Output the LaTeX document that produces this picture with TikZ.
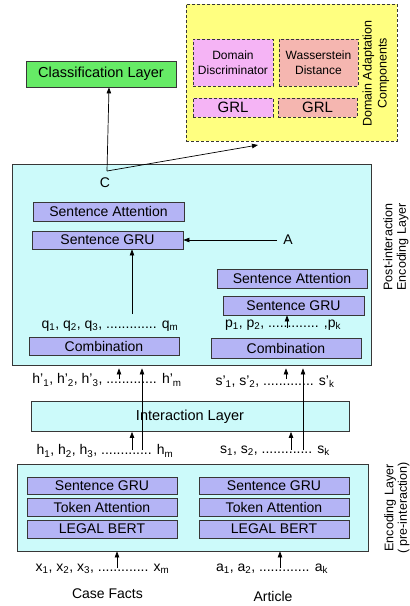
\documentclass[tikz,border=0pt]{standalone}
\usepackage{fontspec}
\setmainfont{Liberation Sans}
\usetikzlibrary{arrows.meta,calc}
\definecolor{yel}{RGB}{255,255,128}
\definecolor{pnk}{RGB}{245,180,245}
\definecolor{sal}{RGB}{245,182,176}
\definecolor{grn}{RGB}{102,235,102}
\definecolor{cyn}{RGB}{204,250,250}
\definecolor{lav}{RGB}{180,180,245}
\definecolor{edge}{RGB}{55,55,55}
\newcommand{\mydots}{.............}
\begin{document}
\begin{tikzpicture}[x=1pt,y=-1pt,
  box/.style={draw=edge,line width=0.8pt,inner sep=0pt,anchor=center,align=center},
  lay/.style={box,fill=lav,font=\fontsize{14}{16}\selectfont},
  dbox/.style={box,dash pattern=on 3pt off 2pt,line width=0.9pt},
  lbl/.style={inner sep=0pt,font=\fontsize{14}{16}\selectfont},
  arr/.style={-{Triangle[length=6pt,width=4.5pt]},line width=0.7pt,draw=black},
  rot/.style={rotate=90,align=center,inner sep=0pt,font=\fontsize{12.5}{13.5}\selectfont}]
\useasboundingbox (0,0) rectangle (410,606);
\fill[white] (0,0) rectangle (410,606);
% domain adaptation
\node[dbox,fill=yel,minimum width=211pt,minimum height=137pt] (yb) at (291.5,72.5) {};
\node[dbox,fill=pnk,minimum width=80pt,minimum height=47pt,font=\fontsize{12}{15}\selectfont] (dd) at (233,62.5) {Domain\\Discriminator};
\node[dbox,fill=sal,minimum width=79pt,minimum height=47pt,font=\fontsize{12}{15}\selectfont] (wd) at (318.5,62.5) {Wasserstein\\Distance};
\node[dbox,fill=pnk,minimum width=80pt,minimum height=19pt,font=\fontsize{15}{17}\selectfont] (g1) at (233,107.5) {GRL};
\node[dbox,fill=sal,minimum width=79pt,minimum height=19pt,font=\fontsize{15}{17}\selectfont] (g2) at (317.5,107.5) {GRL};
\node[rot,font=\fontsize{12.5}{15}\selectfont] (dac) at (376,73.5) {Domain Adaptation\\Components};
% classification
\node[box,fill=grn,minimum width=150pt,minimum height=26pt,font=\fontsize{14.5}{16}\selectfont] (cls) at (101,74) {Classification Layer};
% post-interaction
\node[box,fill=cyn,minimum width=359pt,minimum height=201pt] (post) at (191.5,264.5) {};
\node[rot] (postl) at (396,247) {Post-interaction\\Encoding Layer};
\node[lay,minimum width=151pt,minimum height=19pt] (sa1) at (108.5,211.5) {Sentence Attention};
\node[lay,minimum width=151pt,minimum height=18pt] (sg1) at (107.5,240) {Sentence GRU};
\node[lay,minimum width=150pt,minimum height=19pt] (sa2) at (292,278.5) {Sentence Attention};
\node[lay,minimum width=141pt,minimum height=19pt] (sg2) at (293.5,305.5) {Sentence GRU};
\node[lay,minimum width=150pt,minimum height=18pt] (cb1) at (104,346) {Combination};
\node[lay,minimum width=150pt,minimum height=20pt] (cb2) at (286,348) {Combination};
\node[lbl] (q) at (110,326) {q\textsubscript{1}, q\textsubscript{2}, q\textsubscript{3}, \mydots{} q\textsubscript{m}};
\node[lbl] (p) at (283,325) {p\textsubscript{1}, p\textsubscript{2}, \mydots{} ,p\textsubscript{k}};
\node[lbl] (C) at (105,183) {C};
\node[lbl] (A) at (288,240) {A};
% interaction
\node[lbl] (hp) at (107,380) {h'\textsubscript{1}, h'\textsubscript{2}, h'\textsubscript{3}, \mydots{} h'\textsubscript{m}};
\node[lbl] (spr) at (275,382) {s'\textsubscript{1}, s'\textsubscript{2}, \mydots{} s'\textsubscript{k}};
\node[box,fill=cyn,minimum width=318pt,minimum height=30pt,font=\fontsize{14.5}{16}\selectfont] (inter) at (190,416.5) {Interaction Layer};
\node[lbl] (h) at (105,451) {h\textsubscript{1}, h\textsubscript{2}, h\textsubscript{3}, \mydots{} h\textsubscript{m}};
\node[lbl] (s) at (275,451) {s\textsubscript{1}, s\textsubscript{2}, \mydots{} s\textsubscript{k}};
% encoding
\node[box,fill=cyn,minimum width=351pt,minimum height=87pt] (enc) at (192.5,507.5) {};
\node[rot] (encl) at (397,508) {Encoding Layer\\( pre-interaction)};
\node[lay,minimum width=150pt,minimum height=17pt] (sgl) at (102,485.5) {Sentence GRU};
\node[lay,minimum width=150pt,minimum height=18pt] (tal) at (102,507) {Token Attention};
\node[lay,minimum width=150pt,minimum height=18pt] (lbl) at (102,529) {LEGAL BERT};
\node[lay,minimum width=150pt,minimum height=17pt] (sgr) at (274,485.5) {Sentence GRU};
\node[lay,minimum width=150pt,minimum height=18pt] (tar) at (274,507) {Token Attention};
\node[lay,minimum width=150pt,minimum height=18pt] (lbr) at (274,529) {LEGAL BERT};
\node[lbl] (x) at (102.5,569) {x\textsubscript{1}, x\textsubscript{2}, x\textsubscript{3}, \mydots{} x\textsubscript{m}};
\node[lbl] (a) at (272,569) {a\textsubscript{1}, a\textsubscript{2}, \mydots{} a\textsubscript{k}};
\node[lbl] (cf) at (107.5,594) {Case Facts};
\node[lbl] (art) at (273,596) {Article};
% connectors
\coordinate (cpt) at (107,171);
\coordinate (ytip) at (258,145);
\draw[arr] (cpt) -- ([xshift=8pt]cls.south);
\draw[arr] (cpt) -- (ytip);
\draw[arr,shorten <=6pt] (A.west) -- (sg1.east);
\coordinate (q1s) at (132,314);
\draw[arr] (q1s) -- (sg1.south -| q1s);
\coordinate (p1s) at (287,328);
\draw[arr] (p1s) -- (sg2.south -| p1s);
\coordinate (hp1) at (119,379);
\coordinate (hl) at (142,450);
\coordinate (hs) at (132,450);
\coordinate (sp1) at (286,379);
\coordinate (sl) at (303,450);
\coordinate (ss) at (291,450);
\draw[arr,shorten >=3pt] (hp1) -- (hp1 |- post.south);
\draw[arr,shorten >=3pt] (hl) -- (hl |- post.south);
\draw[arr] (hs) -- (hs |- inter.south);
\draw[arr,shorten >=3pt] (sp1) -- (sp1 |- post.south);
\draw[arr,shorten >=3pt] (sl) -- (sl |- post.south);
\draw[arr] (ss) -- (ss |- inter.south);
\coordinate (xs) at (117,568);
\coordinate (as) at (280,568);
\draw[arr] (xs) -- (xs |- enc.south);
\draw[arr] (as) -- (as |- enc.south);
\end{tikzpicture}
\end{document}
